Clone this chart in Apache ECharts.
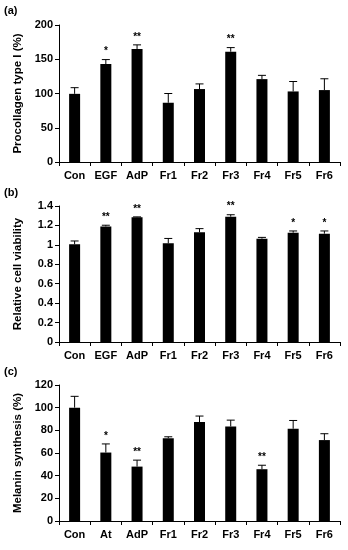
<!DOCTYPE html>
<html><head><meta charset="utf-8">
<script src="https://cdn.jsdelivr.net/npm/echarts@6/dist/echarts.min.js"></script>
<style>html,body{margin:0;padding:0;background:#fff}#c{width:348px;height:550px}</style>
</head><body><div id="c"></div>
<script>
const catsA = ['Con','EGF','AdP','Fr1','Fr2','Fr3','Fr4','Fr5','Fr6'];
const valsA = [99.5,143,165,86.5,106.5,161,121,103,105];
const errA  = [9,6.5,6,13.5,7.5,6,5.5,14.5,16.5];
const starsA = ['','*','**','','','**','','',''];
const ticksA = [0,50,100,150,200];

const catsB = ['Con','EGF','AdP','Fr1','Fr2','Fr3','Fr4','Fr5','Fr6'];
const valsB = [1.005,1.19,1.283,1.016,1.129,1.29,1.064,1.125,1.115];
const errB  = [0.035,0.012,0.005,0.05,0.038,0.02,0.013,0.018,0.028];
const starsB = ['','**','**','','','**','','*','*'];
const ticksB = [0,0.2,0.4,0.6,0.8,1,1.2,1.4];

const catsC = ['Con','At','AdP','Fr1','Fr2','Fr3','Fr4','Fr5','Fr6'];
const valsC = [100,60.4,48,73,87.3,83.4,45.7,81.4,71.4];
const errC  = [10,7.6,5.7,1.3,5.3,5.6,3.5,7.3,5.6];
const starsC = ['','*','**','','','','**','',''];
const ticksC = [0,20,40,60,80,100,120];

const FONT = 'Liberation Sans, Arial, sans-serif';
const chart = echarts.init(document.getElementById('c'));

const grids = [
  {left:59, top:25, width:281, height:137},
  {left:59, top:206, width:281, height:136},
  {left:59, top:385, width:281, height:136}
];
const ynames = ['Procollagen type I (%)','Relative cell viability','Melanin synthesis (%)'];
const yTicks = [ticksA, ticksB, ticksC];
const cats = [catsA, catsB, catsC];
const vals = [valsA, valsB, valsC];
const errs = [errA, errB, errC];
const stars = [starsA, starsB, starsC];

const xAxis = [], yAxis = [], series = [];
for (let i=0;i<3;i++){
  const t = yTicks[i];
  xAxis.push({type:'category', gridIndex:i, data:cats[i],
    axisLine:{lineStyle:{color:'#000',width:1}},
    axisTick:{show:true, length:4, lineStyle:{color:'#000'}},
    axisLabel:{color:'#000', fontFamily:FONT, fontWeight:'bold', fontSize:11, margin:8}});
  yAxis.push({type:'value', gridIndex:i, min:t[0], max:t[t.length-1], interval:t[1]-t[0],
    name:ynames[i], nameLocation:'middle', nameGap:35,
    nameTextStyle:{color:'#000', fontFamily:FONT, fontWeight:'bold', fontSize:11.5},
    axisLine:{show:true, lineStyle:{color:'#000',width:1}},
    axisTick:{show:true, length:4, lineStyle:{color:'#000'}},
    splitLine:{show:false},
    axisLabel:{color:'#000', fontFamily:FONT, fontWeight:'bold', fontSize:11, margin:6}});
  series.push({type:'bar', xAxisIndex:i, yAxisIndex:i, data:vals[i], barWidth:11,
    itemStyle:{color:'#000'}, silent:true});
  const v = vals[i], e = errs[i], s = stars[i];
  series.push({type:'custom', xAxisIndex:i, yAxisIndex:i, silent:true, z:5,
    data: v.map((d,k)=>[k, d, d+e[k], s[k]]),
    renderItem:(params, api)=>{
      const x = api.value(0);
      const p0 = api.coord([x, api.value(1)]);
      const p1 = api.coord([x, api.value(2)]);
      const capW = 4;
      const children = [
        {type:'line', shape:{x1:p0[0], y1:p0[1], x2:p1[0], y2:p1[1]}, style:{stroke:'#000', lineWidth:1}},
        {type:'line', shape:{x1:p1[0]-capW, y1:p1[1], x2:p1[0]+capW, y2:p1[1]}, style:{stroke:'#000', lineWidth:1}}
      ];
      const st = api.value(3);
      if (st) children.push({type:'text', style:{text:st, x:p1[0], y:p1[1]-3, align:'center', verticalAlign:'bottom',
        fill:'#000', font:'bold 10px ' + FONT}});
      return {type:'group', children};
    }});
}

chart.setOption({
  animation:false,
  grid: grids,
  xAxis, yAxis, series,
  graphic:[
    {type:'text', left:4, top:5, style:{text:'(a)', font:'bold 11px '+FONT, fill:'#000'}},
    {type:'text', left:4, top:187, style:{text:'(b)', font:'bold 11px '+FONT, fill:'#000'}},
    {type:'text', left:4, top:366, style:{text:'(c)', font:'bold 11px '+FONT, fill:'#000'}}
  ]
});
</script></body></html>
